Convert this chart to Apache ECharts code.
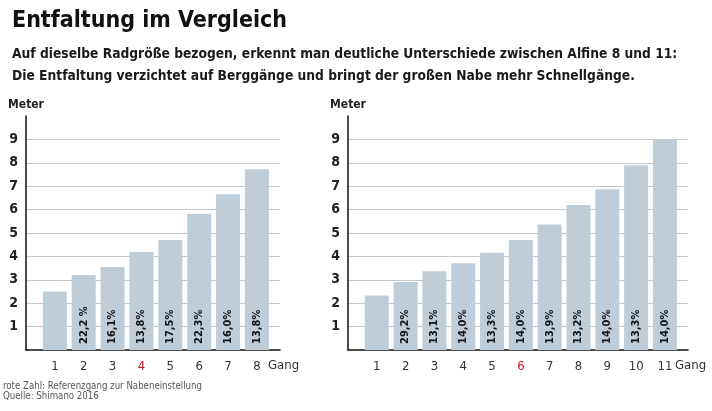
<!DOCTYPE html>
<html>
<head>
<meta charset="utf-8">
<script src="https://cdn.jsdelivr.net/npm/echarts@6/dist/echarts.min.js"></script>
<style>
html,body{margin:0;padding:0;background:#fff;}
#c{width:712px;height:411px;}
</style>
</head>
<body>
<div id="c"></div>
<script>
// ---- data ----
const gearsA = [1, 2, 3, 4, 5, 6, 7, 8];
const metersA = [2.50, 3.21, 3.55, 4.19, 4.70, 5.82, 6.66, 7.72];
const stepsA = ['', '22,2 %', '16,1%', '13,8%', '17,5%', '22,3%', '16,0%', '13,8%'];
const refGearA = 4;

const gearsB = [1, 2, 3, 4, 5, 6, 7, 8, 9, 10, 11];
const metersB = [2.33, 2.91, 3.37, 3.71, 4.16, 4.70, 5.36, 6.20, 6.87, 7.90, 9.00];
const stepsB = ['', '29,2%', '13,1%', '14,0%', '13,3%', '14,0%', '13,9%', '13,2%', '14,0%', '13,3%', '14,0%'];
const refGearB = 6;

const yTicks = [1, 2, 3, 4, 5, 6, 7, 8, 9];

const titleText = 'Entfaltung im Vergleich';
const subLine1 = 'Auf dieselbe Radgröße bezogen, erkennt man deutliche Unterschiede zwischen Alfine 8 und 11:';
const subLine2 = 'Die Entfaltung verzichtet auf Berggänge und bringt der großen Nabe mehr Schnellgänge.';
const note1 = 'rote Zahl: Referenzgang zur Nabeneinstellung';
const note2 = 'Quelle: Shimano 2016';
const xName = 'Gang';

// ---- styling ----
const FONT = "'Liberation Sans Narrow', 'DejaVu Sans Condensed', sans-serif";
const BAR = '#bfcdd9';
const RED = '#c4161c';

function xAxisFor(gears, ref, idx, max) {
  return {
    type: 'value', gridIndex: idx, min: 0, max: max, interval: 1,
    axisLine: { show: true, onZero: false, lineStyle: { color: '#111', width: 1.5 } },
    axisTick: { show: false },
    splitLine: { show: false },
    axisLabel: {
      margin: 10, fontFamily: FONT, fontSize: 13, color: '#333',
      showMinLabel: false, showMaxLabel: false,
      formatter: function (v) {
        if (gears.indexOf(v) < 0) return '';
        return v === ref ? '{r|' + v + '}' : String(v);
      },
      rich: { r: { color: RED, fontFamily: FONT, fontSize: 13 } }
    }
  };
}
function yAxisFor(idx) {
  return {
    type: 'value', gridIndex: idx, min: 0, max: 10, interval: 1,
    axisLine: { show: true, lineStyle: { color: '#111', width: 1.5 } },
    axisTick: { show: false },
    splitLine: { show: true, showMinLine: false, showMaxLine: false, lineStyle: { color: '#c8c8c8', width: 1 } },
    axisLabel: {
      margin: 8, fontFamily: FONT, fontSize: 14, fontWeight: 'bold', color: '#222',
      formatter: function (v) { return yTicks.indexOf(v) >= 0 ? String(v) : ''; }
    },
    name: 'Meter', nameLocation: 'end', nameGap: 11,
    nameTextStyle: { fontFamily: FONT, fontSize: 12, fontWeight: 'bold', color: '#222', align: 'center', verticalAlign: 'middle' }
  };
}
function barSeries(gears, meters, steps, idx) {
  return {
    type: 'bar', xAxisIndex: idx, yAxisIndex: idx, barWidth: 24,
    data: gears.map((g, i) => [g, meters[i]]),
    itemStyle: { color: BAR },
    label: {
      show: true, position: 'insideBottom', distance: 6, rotate: 90,
      align: 'left', verticalAlign: 'middle',
      fontFamily: FONT, fontSize: 11, fontWeight: 'bold', color: '#111',
      formatter: p => steps[p.dataIndex]
    },
    silent: true, animation: false
  };
}

const chart = echarts.init(document.getElementById('c'), null, { renderer: 'canvas' });
chart.setOption({
  backgroundColor: '#fff',
  animation: false,
  grid: [
    { left: 26, top: 116, width: 254, height: 234 },
    { left: 348, top: 116, width: 340, height: 234 }
  ],
  xAxis: [xAxisFor(gearsA, refGearA, 0, 8.8), xAxisFor(gearsB, refGearB, 1, 11.8)],
  yAxis: [yAxisFor(0), yAxisFor(1)],
  series: [barSeries(gearsA, metersA, stepsA, 0), barSeries(gearsB, metersB, stepsB, 1)],
  graphic: [
    { type: 'text', left: 12, top: 10, style: { text: titleText, font: "bold 23px " + FONT, fill: '#111' } },
    { type: 'text', left: 12, top: 47, style: { text: subLine1, font: "bold 13.7px " + FONT, fill: '#1a1a1a' } },
    { type: 'text', left: 12, top: 69, style: { text: subLine2, font: "bold 13.7px " + FONT, fill: '#1a1a1a' } },
    { type: 'text', left: 268, top: 359, style: { text: xName, font: "13px " + FONT, fill: '#333' } },
    { type: 'text', left: 675, top: 359, style: { text: xName, font: "13px " + FONT, fill: '#333' } },
    { type: 'text', left: 3, top: 381, style: { text: note1, font: "9.6px " + FONT, fill: '#555' } },
    { type: 'text', left: 3, top: 391, style: { text: note2, font: "9.6px " + FONT, fill: '#555' } }
  ]
});
</script>
</body>
</html>
